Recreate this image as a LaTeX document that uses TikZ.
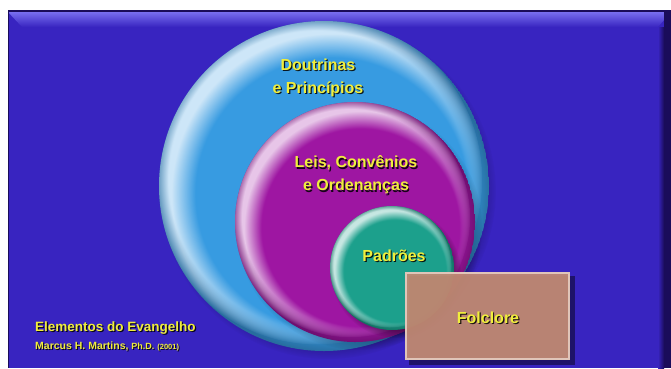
\documentclass[tikz,border=0pt]{standalone}
\usepackage{fontspec}
\setmainfont{Liberation Sans}
\usetikzlibrary{fadings}
\definecolor{bgblue}{RGB}{56,36,192}
\definecolor{bevel}{RGB}{120,110,240}
\definecolor{darkedge}{RGB}{26,12,90}
\definecolor{cblue}{RGB}{55,155,225}
\definecolor{cmag}{RGB}{158,22,162}
\definecolor{cgreen}{RGB}{28,160,140}
\definecolor{tanbox}{RGB}{194,138,116}
\definecolor{ytext}{RGB}{240,238,60}
\newcommand\glossdisk[4]{%
  \pgfmathsetmacro\gdA{-0.04*#3}
  \pgfmathsetmacro\gdB{0.045*#3}
  \pgfmathsetmacro\gdR{0.965*#3}
  \fill[black, opacity=0.55, path fading=circle with fuzzy edge 20 percent] (#1+4,#2+5) circle (#3pt+3pt);
  \begin{scope}
    \clip (#1,#2) circle (#3pt);
    \fill[#4!70!black] (#1,#2) circle (#3pt);
    \fill[#4!25!white, path fading=circle with fuzzy edge 10 percent] (#1+\gdA,#2+\gdA) circle (#3pt);
    \fill[#4, path fading=circle with fuzzy edge 15 percent] (#1+\gdB,#2+\gdB) circle (\gdR pt);
  \end{scope}
}
\tikzset{
  lbl/.style={font=\bfseries\fontsize{16}{23}\selectfont, text=ytext, align=center, inner sep=0pt},
  lblsh/.style={font=\bfseries\fontsize{16}{23}\selectfont, text=black, opacity=0.85, align=center, inner sep=0pt},
}
\begin{document}
\begin{tikzpicture}[x=1pt,y=-1pt]
\useasboundingbox (0,0) rectangle (671,368);
% panel
\fill[white] (0,0) rectangle (671,368);
\fill[bgblue] (8,10) rectangle (671,368);
\shade[top color=bevel, bottom color=bgblue] (8,12) -- (671,12) -- (658,27) -- (22,27) -- cycle;
\shade[left color=bgblue, right color=darkedge] (658,27) rectangle (664,368);
\fill[darkedge] (664,12) rectangle (671,368);
\draw[darkedge, line width=1.5pt] (8,11) -- (671,11);
\draw[darkedge, line width=1pt] (8.5,10) -- (8.5,368);
% disks
\glossdisk{324}{186}{165}{cblue}
\glossdisk{355}{222}{120}{cmag}
\glossdisk{392}{268}{62}{cgreen}
% folclore box
\fill[black, opacity=0.45] (409,276) rectangle (575,365);
\fill[tanbox, opacity=0.94] (405,272) rectangle (570,360);
\draw[tanbox!50!white, line width=1.5pt] (406,273) rectangle (569,359);
% labels
\node[lblsh] (t1s) at (319.2,79.2) {Doutrinas\\e Princípios};
\node[lbl] (t1) at (318,78) {Doutrinas\\e Princípios};
\node[lblsh] (t2s) at (357.2,176.2) {Leis, Convênios\\e Ordenanças};
\node[lbl] (t2) at (356,175) {Leis, Convênios\\e Ordenanças};
\node[lblsh] (t3s) at (395.2,257.2) {Padrões};
\node[lbl] (t3) at (394,256) {Padrões};
\node[lblsh] (t4s) at (489.2,319.2) {Folclore};
\node[lbl] (t4) at (488,318) {Folclore};
\node[lblsh, font=\bfseries\fontsize{13.5}{16}\selectfont, anchor=west] (t5s) at (36.2,329.2) {Elementos do Evangelho};
\node[lbl, font=\bfseries\fontsize{13.5}{16}\selectfont, anchor=west] (t5) at (35,328) {Elementos do Evangelho};
\node[lblsh, font=\bfseries\fontsize{10.5}{12}\selectfont, anchor=west] (t6s) at (36,347) {Marcus H. Martins, {\fontsize{9}{10}\selectfont Ph.D.} {\fontsize{7.5}{9}\selectfont (2001)}};
\node[lbl, font=\bfseries\fontsize{10.5}{12}\selectfont, anchor=west] (t6) at (35,346) {Marcus H. Martins, {\fontsize{9}{10}\selectfont Ph.D.} {\fontsize{7.5}{9}\selectfont (2001)}};
\end{tikzpicture}
\end{document}
